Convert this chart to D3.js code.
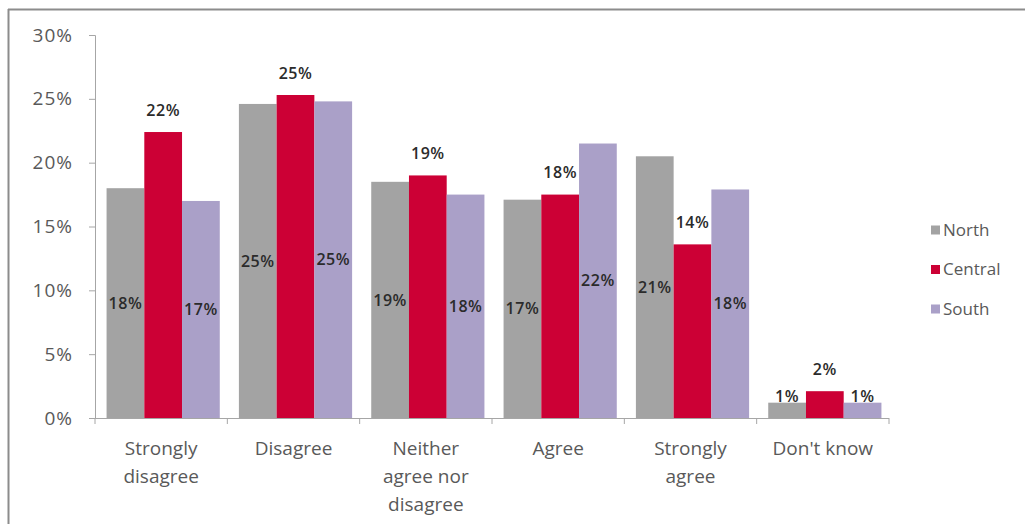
<!DOCTYPE html>
<html>
<head>
<meta charset="utf-8">
<script src="https://cdn.jsdelivr.net/npm/d3@7/dist/d3.min.js"></script>
<style>
  html, body { margin: 0; padding: 0; background: #fff; }
  svg { display: block; font-family: "Open Sans", "DejaVu Sans", sans-serif; }
</style>
</head>
<body>
<svg id="chart" width="1025" height="524"></svg>
<script>
// Survey responses by region (percent of respondents)
const categories = ["Strongly disagree", "Disagree", "Neither agree nor disagree", "Agree", "Strongly agree", "Don't know"];
const categoryLines = [["Strongly", "disagree"], ["Disagree"], ["Neither", "agree nor", "disagree"], ["Agree"], ["Strongly", "agree"], ["Don't know"]];
const seriesNames = ["North", "Central", "South"];
const north   = [18.0, 24.6, 18.5, 17.1, 20.5, 1.2];
const central = [22.4, 25.3, 19.0, 17.5, 13.6, 2.1];
const south   = [17.0, 24.8, 17.5, 21.5, 17.9, 1.2];
const yTicks  = [0, 5, 10, 15, 20, 25, 30];

const seriesValues = [north, central, south];
const colors = ["#a3a3a3", "#cc0035", "#aaa0c8"];

const svg = d3.select("#chart");

// outer frame (top and left edges)
svg.append("line").attr("x1", 8).attr("x2", 1025).attr("y1", 9.5).attr("y2", 9.5)
  .attr("stroke", "#8c8c8c").attr("stroke-width", 2);
svg.append("line").attr("x1", 8.5).attr("x2", 8.5).attr("y1", 9).attr("y2", 524)
  .attr("stroke", "#8c8c8c").attr("stroke-width", 2);

const plot = { left: 95, right: 889, top: 35, bottom: 418 };

const x0 = d3.scaleBand().domain(categories).range([plot.left, plot.right]).paddingInner(0).paddingOuter(0);
const x1 = d3.scaleBand().domain(seriesNames).range([3, x0.bandwidth() + 1]).paddingOuter(0.227).paddingInner(0);
const y = d3.scaleLinear().domain([0, 30]).range([plot.bottom, plot.top]);

// y axis
const yAxis = svg.append("g").attr("transform", `translate(${plot.left},0)`)
  .call(d3.axisLeft(y).tickValues(yTicks).tickSize(6).tickPadding(16).tickFormat(d => d + "%"));
yAxis.select(".domain").attr("stroke", "#a6a6a6");
yAxis.selectAll(".tick line").attr("stroke", "#a6a6a6");
yAxis.selectAll(".tick text").attr("fill", "#595959").style("font-size", "19px").attr("letter-spacing", "1px")
  .style("font-family", "\"Open Sans\", sans-serif");

// bars
const groups = svg.append("g").selectAll("g")
  .data(categories).join("g")
  .attr("transform", c => `translate(${x0(c)},0)`);

groups.each(function (c, ci) {
  const g = d3.select(this);
  seriesNames.forEach((s, si) => {
    const v = seriesValues[si][ci];
    g.append("rect")
      .attr("x", x1(s))
      .attr("y", y(v))
      .attr("width", x1.bandwidth())
      .attr("height", y(0) - y(v))
      .attr("fill", colors[si]);
  });
});

// x axis (drawn over bar bases)
const xAxis = svg.append("g").attr("transform", `translate(0,${plot.bottom})`);
xAxis.append("line").attr("x1", plot.left).attr("x2", plot.right).attr("y1", 0.5).attr("y2", 0.5)
  .attr("stroke", "#a6a6a6");
const boundaries = categories.map(c => x0(c)).concat([plot.right]);
xAxis.selectAll("line.tk").data(boundaries).join("line").attr("class", "tk")
  .attr("x1", d => d).attr("x2", d => d).attr("y1", 0).attr("y2", 6).attr("stroke", "#a6a6a6");

// category labels
categories.forEach((c, ci) => {
  const t = svg.append("text")
    .attr("x", x0(c) + x0.bandwidth() / 2)
    .attr("y", 455)
    .attr("text-anchor", "middle")
    .attr("fill", "#595959")
    .style("font-size", "19px");
  categoryLines[ci].forEach((line, li) => {
    t.append("tspan").attr("x", x0(c) + x0.bandwidth() / 2).attr("dy", li === 0 ? 0 : 28).text(line);
  });
});

// value labels: North/South centred in the bar (nudged up on short bars), Central above the bar
groups.each(function (c, ci) {
  const g = d3.select(this);
  seriesNames.forEach((s, si) => {
    const v = seriesValues[si][ci];
    const cx = x1(s) + x1.bandwidth() / 2;
    const h = y(0) - y(v);
    let cy;
    if (si === 1) {
      cy = y(v) - 22;
    } else if (h < 20) {
      cy = y(v) - 6;
    } else {
      cy = (y(v) + y(0)) / 2;
    }
    g.append("text")
      .attr("x", cx)
      .attr("y", cy)
      .attr("dy", "0.35em")
      .attr("text-anchor", "middle")
      .attr("fill", "#2b2b2b")
      .attr("letter-spacing", "0.5px")
      .style("font-size", "16px")
      .style("font-weight", "600")
      .text(Math.round(v) + "%");
  });
});

// legend
const legend = svg.append("g").selectAll("g").data(seriesNames).join("g")
  .attr("transform", (d, i) => `translate(931,${230 + i * 39.5})`);
legend.append("rect").attr("x", 0).attr("y", -4.5).attr("width", 9).attr("height", 9)
  .attr("fill", (d, i) => colors[i]);
legend.append("text").attr("x", 12).attr("y", 0).attr("dy", "0.35em")
  .attr("fill", "#595959").style("font-size", "17px").text(d => d);
</script>
</body>
</html>
